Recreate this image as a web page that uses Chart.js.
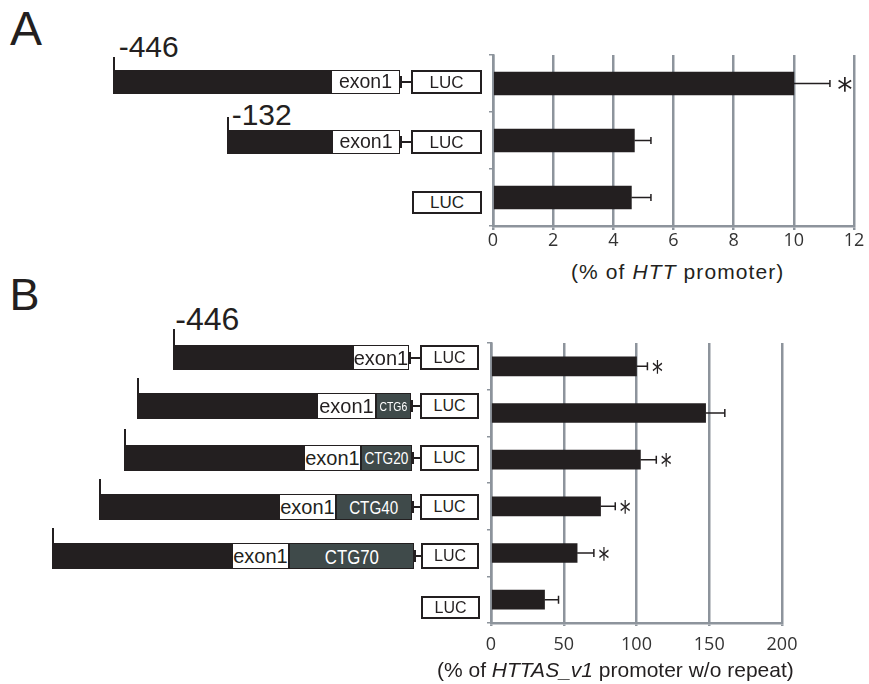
<!DOCTYPE html>
<html>
<head>
<meta charset="utf-8">
<script src="https://cdn.jsdelivr.net/npm/chart.js@4.4.0/dist/chart.umd.min.js"></script>
<style>
  html, body { margin: 0; padding: 0; background: #fff; }
  #page { position: relative; width: 869px; height: 684px; overflow: hidden;
          font-family: 'Liberation Sans', Arial, sans-serif; color: #231f20; }
  canvas { position: absolute; }
  .lbl { position: absolute; line-height: 1; white-space: nowrap; }
  .blk { position: absolute; background: #231f20; }
  .box { position: absolute; box-sizing: border-box; display: flex; align-items: center;
         justify-content: center; white-space: nowrap; overflow: visible; line-height: 1; }
  .exon { background: #fff; border: 1.5px solid #231f20; }
  .ctg { background: #3f4a4a; border: 1.5px solid #231f20; color: #fff; }
  .ctg span { display: inline-block; transform: scaleX(0.8); }
  .luc { background: #fff; border: 2.5px solid #231f20; }
</style>
</head>
<body>
<div id="page">
  <canvas id="chartA" width="399" height="220" style="left:470px; top:40px;"></canvas>
  <canvas id="chartB" width="399" height="364" style="left:470px; top:320px;"></canvas>
  <div class="lbl" style="left:571px; top:261px; font-size:21px; letter-spacing:1.1px;">(% of <i>HTT</i> promoter)</div>
  <div class="lbl" style="left:437px; top:659px; font-size:21px;">(% of <i>HTTAS_v1</i> promoter w/o repeat)</div>
</div>
<script>
// Panel A: promoter deletion constructs
const constructsA = ['-446 exon1 LUC', '-132 exon1 LUC', 'LUC'];
const activityA = [10.0, 4.7, 4.6];
const errorA = [1.2, 0.55, 0.65];
const signifA = [true, false, false];
const ticksA = [0, 2, 4, 6, 8, 10, 12];

// Panel B: CTG repeat constructs
const constructsB = ['-446 exon1 LUC', 'exon1 CTG6 LUC', 'exon1 CTG20 LUC', 'exon1 CTG40 LUC', 'exon1 CTG70 LUC', 'LUC'];
const activityB = [100, 147.5, 102.7, 75.3, 59.2, 36.8];
const errorB = [7.5, 13.2, 10.9, 10.1, 11.5, 9.6];
const signifB = [true, false, true, true, true, false];
const ticksB = [0, 50, 100, 150, 200];

const GRID = '#8d949c';
const INK = '#231f20';

// error bars + significance stars
const errorBars = {
  id: 'errorBars',
  afterDatasetsDraw(chart, args, opts) {
    const { ctx } = chart;
    const xs = chart.scales.x;
    const ds = chart.data.datasets[0];
    const meta = chart.getDatasetMeta(0);
    ctx.save();
    ctx.strokeStyle = INK;
    ctx.fillStyle = INK;
    ctx.lineWidth = opts.lineWidth;
    meta.data.forEach((bar, i) => {
      const v = ds.data[i];
      const xa = xs.getPixelForValue(v);
      const xb = xs.getPixelForValue(v + ds.errors[i]);
      const y = bar.y;
      ctx.beginPath();
      ctx.moveTo(xa, y);
      ctx.lineTo(xb, y);
      ctx.moveTo(xb, y - opts.cap / 2);
      ctx.lineTo(xb, y + opts.cap / 2);
      ctx.stroke();
      if (ds.sig[i]) {
        ctx.font = "100px 'DejaVu Sans'";
        const m = ctx.measureText('*');
        const w = m.actualBoundingBoxLeft + m.actualBoundingBoxRight;
        const h = m.actualBoundingBoxAscent + m.actualBoundingBoxDescent;
        ctx.save();
        ctx.translate(xb + opts.starGap, y);
        ctx.scale(opts.starW / w, opts.starH / h);
        ctx.fillText('*', m.actualBoundingBoxLeft, (m.actualBoundingBoxAscent - m.actualBoundingBoxDescent) / 2);
        ctx.restore();
      }
    });
    ctx.restore();
  }
};

function makeChart(id, labels, values, errors, sig, ticks, cfg) {
  return new Chart(document.getElementById(id), {
    type: 'bar',
    data: {
      labels: labels,
      datasets: [{
        data: values,
        errors: errors,
        sig: sig,
        backgroundColor: INK,
        barThickness: cfg.barThickness
      }]
    },
    options: {
      indexAxis: 'y',
      responsive: false,
      animation: false,
      layout: { padding: cfg.padding },
      plugins: {
        legend: { display: false },
        tooltip: { enabled: false },
        errorBars: cfg.err
      },
      scales: {
        x: {
          min: ticks[0],
          max: ticks[ticks.length - 1],
          afterBuildTicks: s => { s.ticks = ticks.map(v => ({ value: v })); },
          afterFit: s => { s.height = cfg.xHeight; },
          grid: { color: GRID, lineWidth: 2.5, tickLength: cfg.tickLength },
          border: { color: GRID, width: 2.5 },
          ticks: { color: '#333', padding: cfg.tickPad, font: { family: "'Open Sans'", size: 18 } }
        },
        y: {
          afterFit: s => { s.width = 0; },
          ticks: { display: false },
          grid: { drawOnChartArea: false, color: GRID, lineWidth: 1.5, tickLength: 4 },
          border: { color: GRID, width: 2.5 }
        }
      }
    },
    plugins: [errorBars]
  });
}

makeChart('chartA', constructsA, activityA, errorA, signifA, ticksA, {
  barThickness: 23,
  padding: { left: 23, right: 15, top: 15, bottom: 0 },
  xHeight: 34, tickLength: 4, tickPad: 0,
  err: { lineWidth: 1.5, cap: 7, starGap: 8, starW: 14, starH: 15 }
});

makeChart('chartB', constructsB, activityB, errorB, signifB, ticksB, {
  barThickness: 19,
  padding: { left: 21, right: 87, top: 23, bottom: 0 },
  xHeight: 61, tickLength: 3, tickPad: 8,
  err: { lineWidth: 1.5, cap: 8, starGap: 5, starW: 10, starH: 14 }
});

// construct schematics (illustration on the left)
const page = document.getElementById('page');

function rect(cls, x1, y1, x2, y2, html, style) {
  const d = document.createElement('div');
  d.className = cls;
  d.style.left = x1 + 'px';
  d.style.top = y1 + 'px';
  d.style.width = (x2 - x1) + 'px';
  d.style.height = (y2 - y1) + 'px';
  if (html) d.innerHTML = html;
  if (style) Object.assign(d.style, style);
  page.appendChild(d);
}

function text(str, x, baseline, size) {
  const d = document.createElement('div');
  d.className = 'lbl';
  d.style.left = x + 'px';
  d.style.top = (baseline - 0.8465 * size) + 'px';
  d.style.fontSize = size + 'px';
  d.textContent = str;
  page.appendChild(d);
}

function construct(c) {
  const mid = (c.y1 + c.y2) / 2;
  if (c.start != null) {
    rect('blk', c.start, c.tickTop, c.start + 2, c.y1);
    rect('blk', c.start, c.y1, c.exon, c.y2);
    rect('box exon', c.exon, c.y1, c.exonEnd, c.y2, 'exon1', { fontSize: c.exonSize + 'px' });
    let end = c.exonEnd;
    if (c.repeat) {
      rect('box ctg', c.exonEnd, c.y1, c.repeatEnd, c.y2, '<span>' + c.repeat + '</span>', { fontSize: c.repeatSize + 'px' });
      end = c.repeatEnd;
    }
    rect('blk', end, mid - 1, c.lucL, mid + 1);
    rect('blk', end, mid - 6, end + 2, mid + 6);
  }
  rect('box luc', c.lucL, c.y1, c.lucR, c.y2, 'LUC', { fontSize: c.lucSize + 'px' });
}

text('A', 10, 45.7, 48);
text('B', 9.5, 310, 45);
text('-446', 118.7, 57.3, 30);
text('-132', 231.7, 125, 30);
text('-446', 175.3, 330, 32);

[
  { start: 113, tickTop: 57, exon: 331, exonEnd: 400, lucL: 411, lucR: 482, y1: 70, y2: 94, exonSize: 19.5, lucSize: 17 },
  { start: 227, tickTop: 117, exon: 332, exonEnd: 400, lucL: 411, lucR: 482, y1: 130, y2: 154, exonSize: 19.5, lucSize: 17 },
  { lucL: 412, lucR: 482, y1: 191, y2: 214, lucSize: 17 },
  { start: 173, tickTop: 329, exon: 353, exonEnd: 409, lucL: 420, lucR: 479, y1: 345, y2: 370, exonSize: 20, lucSize: 16 },
  { start: 137, tickTop: 378, exon: 317, exonEnd: 376, repeat: 'CTG6', repeatEnd: 411, repeatSize: 13, lucL: 420, lucR: 479, y1: 393, y2: 419, exonSize: 20, lucSize: 16 },
  { start: 124, tickTop: 429, exon: 304, exonEnd: 361, repeat: 'CTG20', repeatEnd: 412, repeatSize: 17, lucL: 420, lucR: 479, y1: 445, y2: 471, exonSize: 20, lucSize: 16 },
  { start: 99, tickTop: 479, exon: 279, exonEnd: 336, repeat: 'CTG40', repeatEnd: 412, repeatSize: 19, lucL: 420, lucR: 479, y1: 494, y2: 520, exonSize: 20, lucSize: 16 },
  { start: 52, tickTop: 528, exon: 232, exonEnd: 289, repeat: 'CTG70', repeatEnd: 414, repeatSize: 21, lucL: 421, lucR: 479, y1: 543, y2: 569, exonSize: 20, lucSize: 16 },
  { lucL: 421, lucR: 480, y1: 596, y2: 619, lucSize: 16 }
].forEach(construct);
</script>
</body>
</html>
